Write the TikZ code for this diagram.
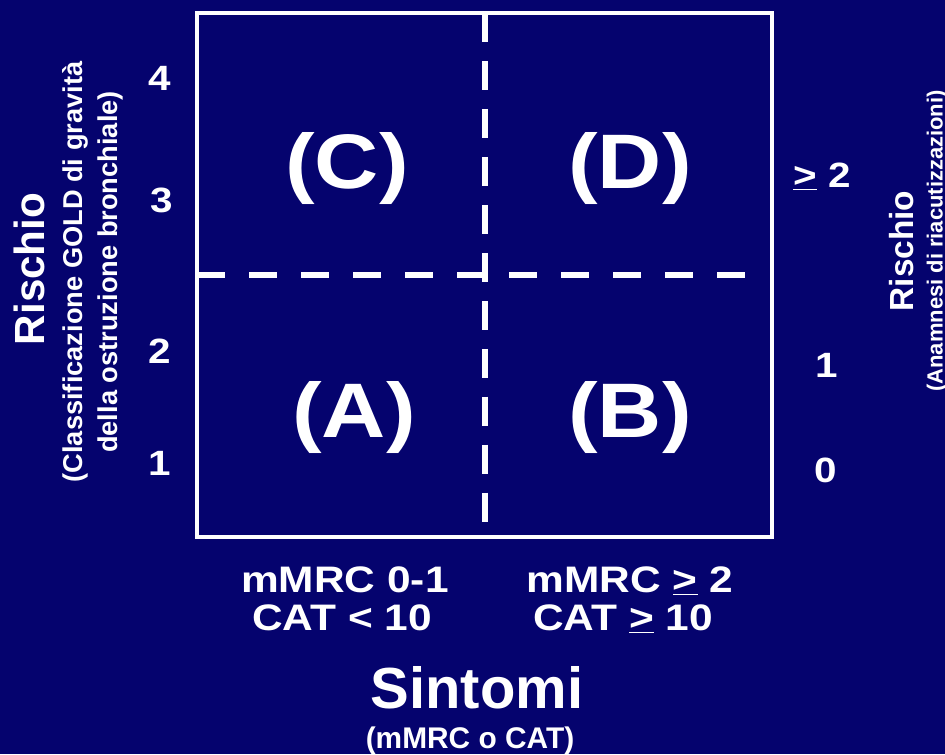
\documentclass[tikz,border=0pt]{standalone}
\usepackage{fontspec}
\setmainfont{Liberation Sans}
\newfontfamily\widesans[FakeStretch=1.15]{Liberation Sans}
\definecolor{navy}{RGB}{5,3,110}

\begin{document}
\begin{tikzpicture}[x=0.02cm, y=-0.02cm,
	frame/.style={draw=white, line width=2.8pt},
	divider/.style={draw=white, line width=3.8pt},
	quadnode/.style={anchor=base, font=\widesans\bfseries\fontsize{44}{50}\selectfont},
	levelnum/.style={anchor=base, font=\widesans\bfseries\fontsize{20}{24}\selectfont},
	scorelbl/.style={anchor=base, font=\widesans\bfseries\fontsize{21}{25}\selectfont},
	axistitle/.style={font=\bfseries\fontsize{24}{28}\selectfont},
	axisnote/.style={font=\bfseries\fontsize{15.5}{19.8}\selectfont, align=center},
	every node/.style={text=white, inner sep=0pt}
	]
	\fill [navy] (0,0) rectangle (945,754);
	\useasboundingbox (0,0) rectangle (945,754);

	% box and the two dividers
	\coordinate (tl) at (197,13);
	\coordinate (br) at (772,537);
	\coordinate (vtop) at (485,13);
	\coordinate (vbot) at (485,522);
	\coordinate (hleft) at (197,275);
	\coordinate (hright) at (749,275);
	\draw [frame] (tl) rectangle (br);
	\draw [divider, dash pattern=on 16.5pt off 10.8pt] (vtop) -- (vbot);
	\draw [divider, dash pattern=on 15.9pt off 13.7pt] (hleft) -- (hright);

	% quadrants
	\node (qc) at (347,188) [quadnode] {(C)};
	\node (qd) at (630,188) [quadnode] {(D)};
	\node (qa) at (354,437) [quadnode] {(A)};
	\node (qb) at (630,437) [quadnode] {(B)};

	% left scale
	\node (g4) at (160,90) [levelnum] {4};
	\node (g3) at (162,212) [levelnum] {3};
	\node (g2) at (160,363) [levelnum] {2};
	\node (g1) at (160,475) [levelnum] {1};
	\node (riskl) at (29,269) [axistitle, rotate=90] {Rischio};
	\node (notel) at (93,272) [axisnote, rotate=90] {(Classificazione GOLD di gravità\\della ostruzione bronchiale)};

	% right scale
	\node (e2) at (822,187) [levelnum] {\underline{>} 2};
	\node (e1) at (827,377) [levelnum] {1};
	\node (e0) at (826,482) [levelnum] {0};
	\node (riskr) at (902,251) [font=\bfseries\fontsize{19}{23}\selectfont, rotate=90] {Rischio};
	\node (noter) at (937,241) [font=\bfseries\fontsize{12.5}{15}\selectfont, rotate=90] {(Anamnesi di riacutizzazioni)};

	% symptoms
	\node (mlow) at (345,592) [scorelbl] {mMRC 0-1};
	\node (clow) at (342,630) [scorelbl] {CAT < 10};
	\node (mhigh) at (630,592) [scorelbl] {mMRC \underline{>} 2};
	\node (chigh) at (623,630) [scorelbl] {CAT \underline{>} 10};
	\node (sint) at (477,708) [anchor=base, font=\bfseries\fontsize{33}{38}\selectfont] {Sintomi};
	\node (sintnote) at (470,748) [anchor=base, font=\bfseries\fontsize{17}{21}\selectfont] {(mMRC o CAT)};
\end{tikzpicture}
\end{document}
